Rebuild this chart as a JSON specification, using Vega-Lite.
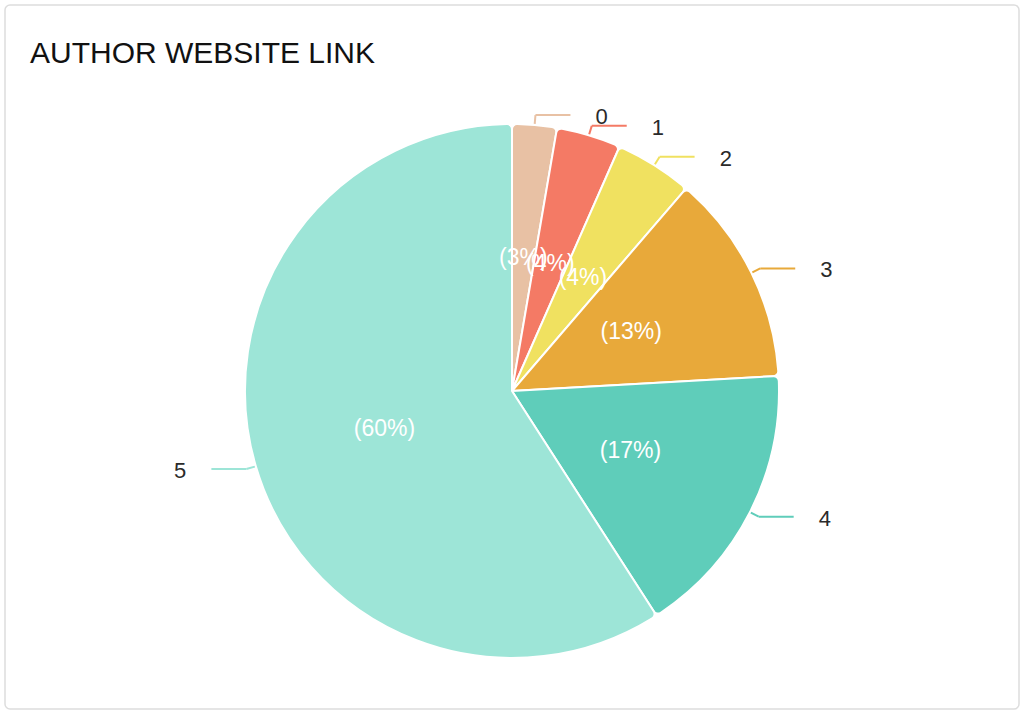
{
  "$schema": "https://vega.github.io/schema/vega-lite/v6.json",
  "autosize": {"type": "fit", "contains": "padding"},
  "width": 1024,
  "height": 714,
  "padding": {"left": 5, "right": 5, "top": 5, "bottom": 5},
  "background": "white",
  "title": {
    "text": "AUTHOR WEBSITE LINK",
    "anchor": "start",
    "frame": "group",
    "orient": "top",
    "offset": -88,
    "dx": 25,
    "baseline": "alphabetic",
    "font": "Liberation Sans",
    "fontSize": 30,
    "fontWeight": "normal",
    "color": "#111111"
  },
  "config": {
    "view": {"stroke": "#dddddd", "strokeWidth": 1.5, "cornerRadius": 5}
  },
  "data": {
    "values": [
      {"rating": "0", "share": 2.7, "label": "(3%)"},
      {"rating": "1", "share": 3.9, "label": "(4%)"},
      {"rating": "2", "share": 4.7, "label": "(4%)"},
      {"rating": "3", "share": 12.8, "label": "(13%)"},
      {"rating": "4", "share": 16.8, "label": "(17%)"},
      {"rating": "5", "share": 59.1, "label": "(60%)"}
    ]
  },
  "transform": [
    {"window": [{"op": "sum", "field": "share", "as": "cum"}], "sort": [{"field": "rating"}], "frame": [null, 0]},
    {"calculate": "datum.cum - datum.share", "as": "start"},
    {"calculate": "datum.cum - datum.share / 2", "as": "mid"},
    {"calculate": "2 * PI * datum.mid / 100", "as": "ang"},
    {"calculate": "1.004 * sin(datum.ang)", "as": "ex"},
    {"calculate": "1.004 * cos(datum.ang)", "as": "ey"},
    {"calculate": "1.037 * sin(datum.ang)", "as": "kx"},
    {"calculate": "1.037 * cos(datum.ang)", "as": "ky"},
    {"calculate": "datum.kx + (datum.mid < 50 ? 0.131 : -0.131)", "as": "hx"}
  ],
  "encoding": {
    "color": {
      "field": "rating",
      "type": "nominal",
      "legend": null,
      "scale": {
        "domain": ["0", "1", "2", "3", "4", "5"],
        "range": ["#E8C1A4", "#F47A65", "#F0E160", "#E8A93A", "#5FCDBA", "#9DE5D7"]
      }
    }
  },
  "layer": [
    {
      "mark": {"type": "arc", "outerRadius": 267, "stroke": "white", "strokeWidth": 2, "cornerRadius": 5, "yOffset": 34},
      "encoding": {
        "theta": {"field": "start", "type": "quantitative", "scale": {"domain": [0, 100]}},
        "theta2": {"field": "cum"}
      }
    },
    {
      "mark": {"type": "rule", "strokeWidth": 2},
      "encoding": {
        "x": {"field": "ex", "type": "quantitative", "axis": null, "scale": {"domain": [-1.8989, 1.8989], "nice": false, "zero": false}},
        "y": {"field": "ey", "type": "quantitative", "axis": null, "scale": {"domain": [-1.191, 1.4457], "nice": false, "zero": false}},
        "x2": {"field": "kx"},
        "y2": {"field": "ky"}
      }
    },
    {
      "mark": {"type": "rule", "strokeWidth": 2},
      "encoding": {
        "x": {"field": "kx", "type": "quantitative"},
        "y": {"field": "ky", "type": "quantitative"},
        "x2": {"field": "hx"},
        "y2": {"field": "ky"}
      }
    },
    {
      "mark": {"type": "text", "font": "Liberation Sans", "fontSize": 23, "yOffset": 34},
      "encoding": {
        "theta": {"field": "mid", "type": "quantitative", "scale": {"domain": [0, 100]}},
        "radius": {"value": 133},
        "text": {"field": "label"},
        "color": {"value": "white"}
      }
    },
    {
      "transform": [{"filter": "datum.mid < 50"}],
      "mark": {"type": "text", "font": "Liberation Sans", "fontSize": 22, "align": "left", "dx": 60, "dy": 2, "yOffset": 34},
      "encoding": {
        "theta": {"field": "mid", "type": "quantitative", "scale": {"domain": [0, 100]}},
        "radius": {"value": 277},
        "text": {"field": "rating"},
        "color": {"value": "#2a2a2a"}
      }
    },
    {
      "transform": [{"filter": "datum.mid >= 50"}],
      "mark": {"type": "text", "font": "Liberation Sans", "fontSize": 22, "align": "right", "dx": -60, "dy": 2, "yOffset": 34},
      "encoding": {
        "theta": {"field": "mid", "type": "quantitative", "scale": {"domain": [0, 100]}},
        "radius": {"value": 277},
        "text": {"field": "rating"},
        "color": {"value": "#2a2a2a"}
      }
    }
  ]
}
